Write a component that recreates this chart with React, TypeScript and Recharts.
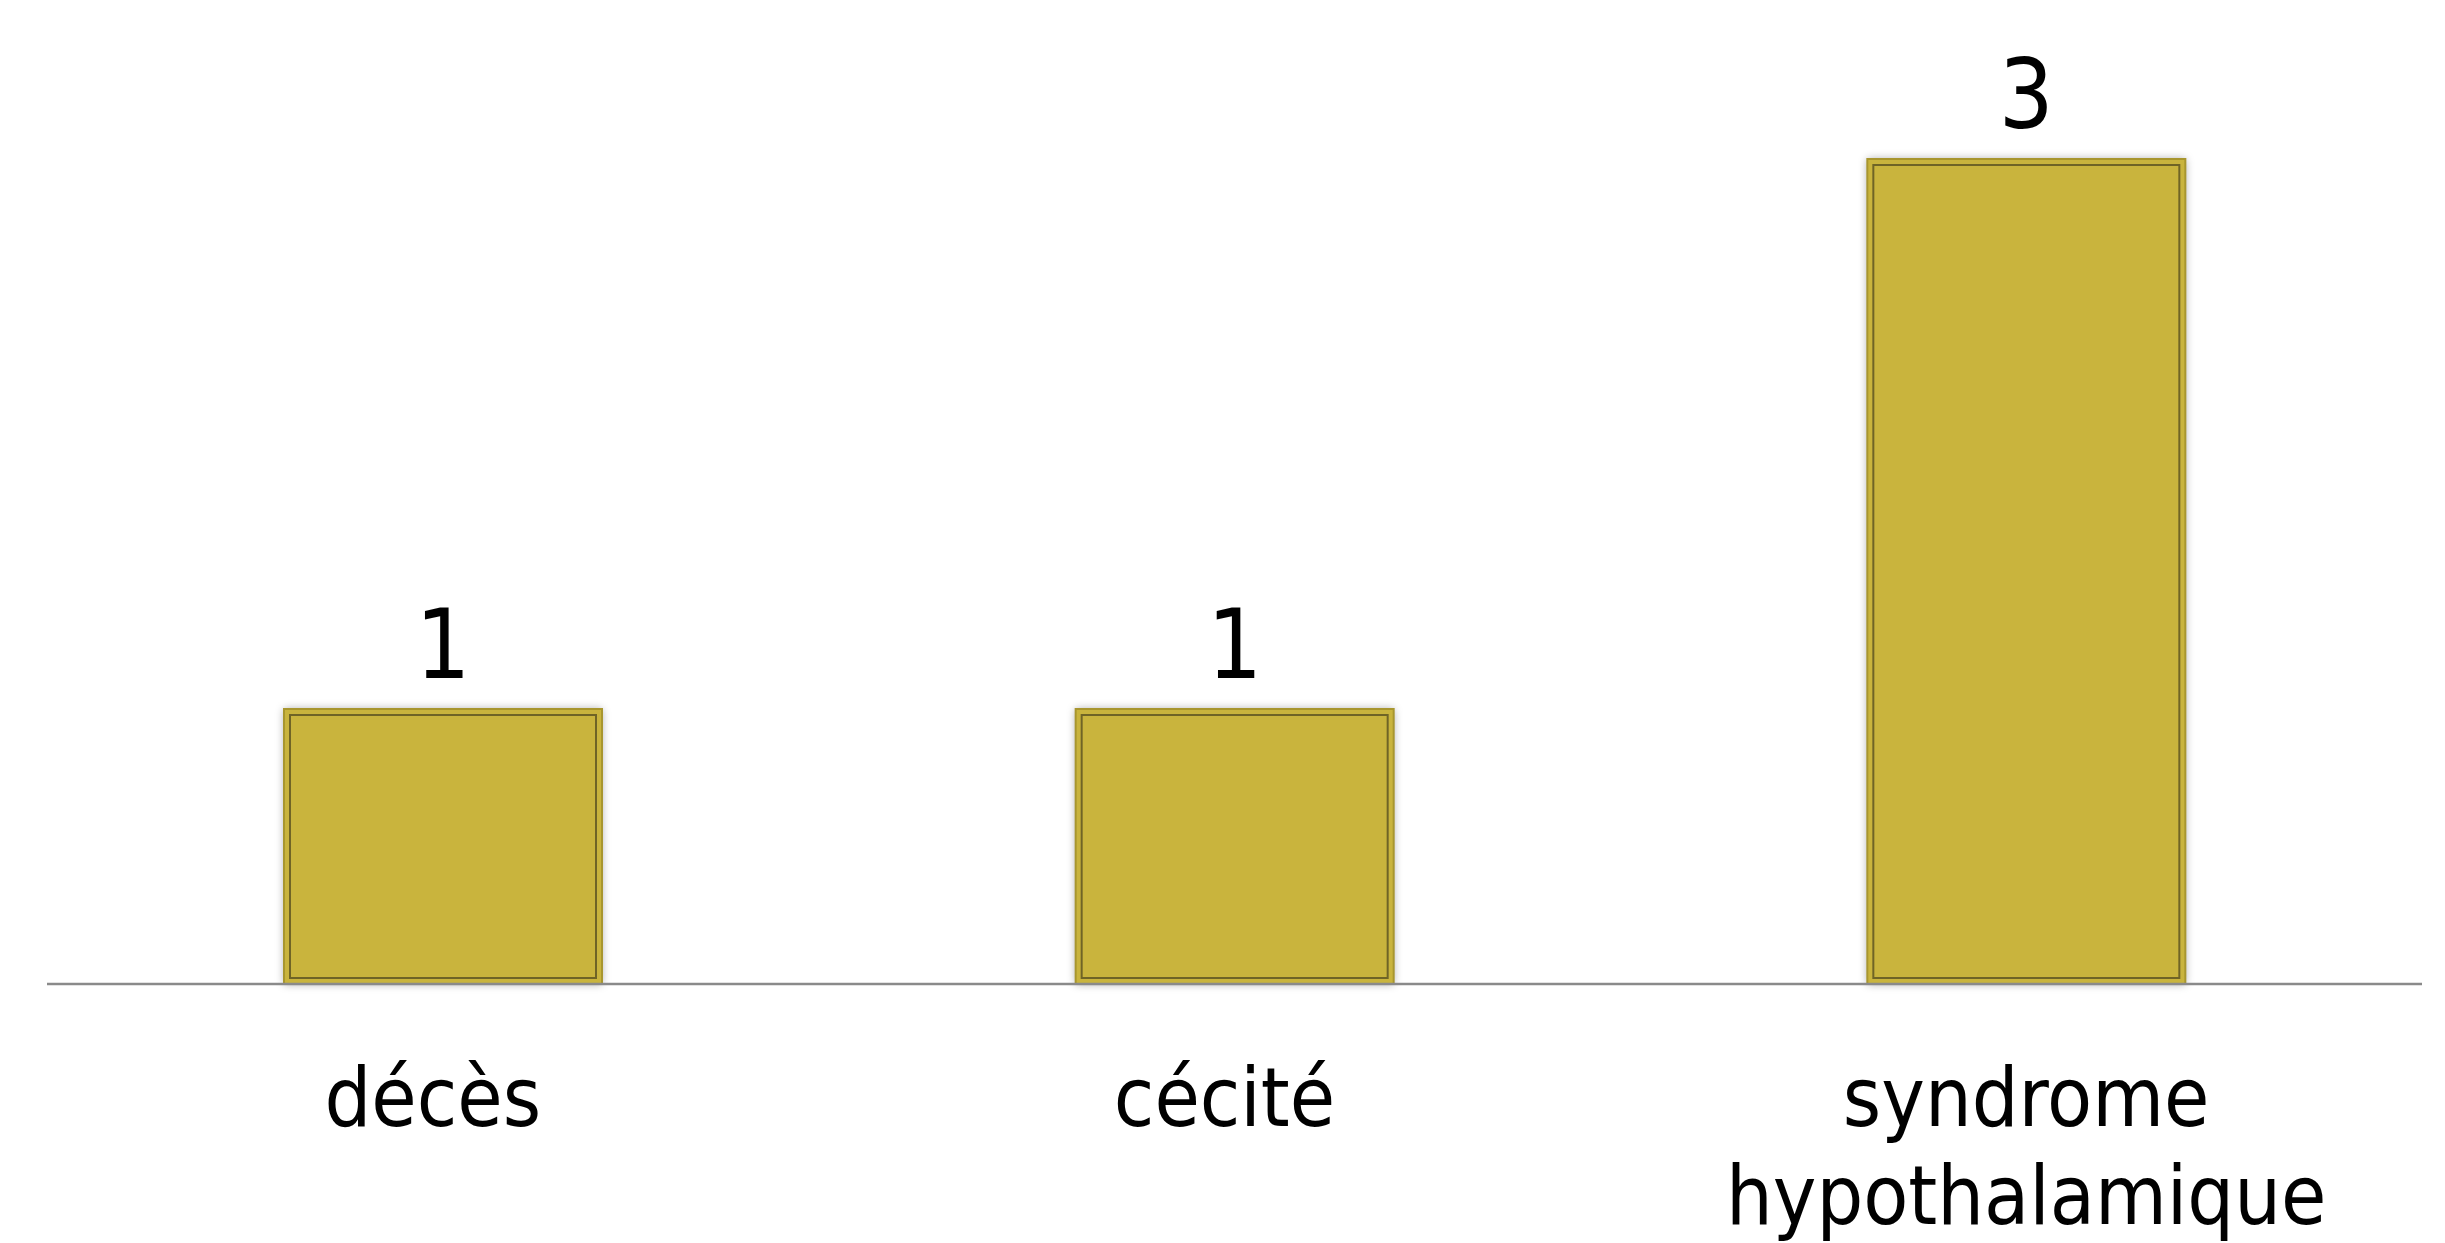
import React from 'react';
import { BarChart, Bar, XAxis, YAxis, LabelList } from 'recharts';

const categories = ['décès', 'cécité', 'syndrome hypothalamique'];
const values = [1, 1, 3];
const yDomain = [0, 3];

const data = categories.map((c, i) => ({ name: c, value: values[i] }));

const FONT = "'DejaVu Sans Condensed', 'DejaVu Sans', sans-serif";

const BarShape = (props: any) => {
  const { x, y, width, height } = props;
  if (!height || height <= 0) return null;
  return (
    <g>
      <rect x={x} y={y} width={width} height={height} fill="#C9B43D" filter="url(#barShadow)" />
      <rect x={x} y={y} width={width} height={height} fill="#C9B43D" stroke="#A8962E" strokeWidth={2} />
      <rect
        x={x + 6}
        y={y + 6}
        width={width - 12}
        height={height - 12}
        fill="none"
        stroke="#6F6426"
        strokeWidth={2}
      />
    </g>
  );
};

const CategoryTick = (props: any) => {
  const { x, y, payload } = props;
  const words: string[] = String(payload.value).split(' ');
  const shift = words.length === 1 ? -10 : 0;
  return (
    <text
      x={x + shift}
      y={y + 142}
      textAnchor="middle"
      fill="#000"
      style={{ fontFamily: FONT, fontSize: 82, fontStretch: 'condensed' }}
    >
      {words.map((w, i) => (
        <tspan key={i} x={x + shift} dy={i === 0 ? 0 : 98}>
          {w}
        </tspan>
      ))}
    </text>
  );
};

export default function App() {
  return (
    <div style={{ position: 'absolute', left: 0, top: 0, background: '#fff' }}>
      <BarChart
        width={2445}
        height={1243}
        data={data}
        margin={{ top: 159, right: 23, bottom: 0, left: 47 }}
      >
        <defs>
          <filter id="barShadow" x="-10%" y="-10%" width="120%" height="120%">
            <feDropShadow dx="0" dy="0" stdDeviation="4" floodColor="#000" floodOpacity="0.35" />
          </filter>
        </defs>
        <YAxis hide domain={yDomain} />
        <XAxis
          dataKey="name"
          height={259}
          axisLine={{ stroke: '#8a8a8a', strokeWidth: 2.5 }}
          tickLine={false}
          tickSize={0}
          tickMargin={0}
          interval={0}
          tick={<CategoryTick />}
        />
        <Bar dataKey="value" barSize={318} shape={<BarShape />} isAnimationActive={false}>
          <LabelList
            dataKey="value"
            position="top"
            offset={31}
            fill="#000"
            style={{ fontFamily: FONT, fontSize: 96, fontStretch: 'condensed' }}
          />
        </Bar>
      </BarChart>
    </div>
  );
}
